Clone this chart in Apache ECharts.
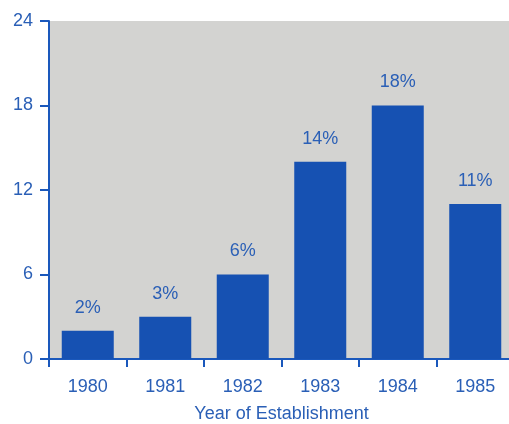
<!DOCTYPE html>
<html>
<head>
<meta charset="utf-8">
<script src="https://cdn.jsdelivr.net/npm/echarts@6/dist/echarts.min.js"></script>
<style>
html,body{margin:0;padding:0;background:#ffffff;}
#chart{width:509px;height:424px;}
</style>
</head>
<body>
<div id="chart"></div>
<script>
const years = ['1980', '1981', '1982', '1983', '1984', '1985'];
const values = [2, 3, 6, 14, 18, 11];
const barLabels = ['2%', '3%', '6%', '14%', '18%', '11%'];
const yTicks = [0, 6, 12, 18, 24];
const xTitle = 'Year of Establishment';

const blueText = '#2a5fb6';
const axisBlue = '#1a58bc';
const barBlue = '#1651b2';
const font = 'Liberation Sans, Arial, Helvetica, sans-serif';

const chart = echarts.init(document.getElementById('chart'), null, {renderer: 'canvas'});
chart.setOption({
  animation: false,
  grid: {
    left: 49, top: 21, width: 465, height: 338,
    show: true, backgroundColor: '#d3d3d1', borderWidth: 0,
    containLabel: false, outerBoundsMode: 'none'
  },
  xAxis: {
    type: 'category',
    data: years,
    name: xTitle,
    nameLocation: 'middle',
    nameGap: 46,
    nameTextStyle: {color: blueText, fontSize: 18, fontFamily: font},
    axisLine: {show: true, lineStyle: {color: axisBlue, width: 2}},
    axisTick: {show: true, length: 8, lineStyle: {color: axisBlue, width: 2}},
    axisLabel: {color: blueText, fontSize: 18, fontFamily: font, margin: 19},
    splitLine: {show: false}
  },
  yAxis: {
    type: 'value',
    min: yTicks[0], max: yTicks[yTicks.length - 1], interval: yTicks[1] - yTicks[0],
    axisLine: {show: true, lineStyle: {color: axisBlue, width: 2}},
    axisTick: {show: true, length: 9, lineStyle: {color: axisBlue, width: 2}},
    axisLabel: {color: blueText, fontSize: 18, fontFamily: font, margin: 16},
    splitLine: {show: false}
  },
  series: [{
    type: 'bar',
    data: values,
    barWidth: 52,
    itemStyle: {color: barBlue},
    label: {
      show: true, position: 'top', distance: 14,
      color: blueText, fontSize: 18, fontFamily: font,
      formatter: p => barLabels[p.dataIndex]
    }
  }]
});
</script>
</body>
</html>
